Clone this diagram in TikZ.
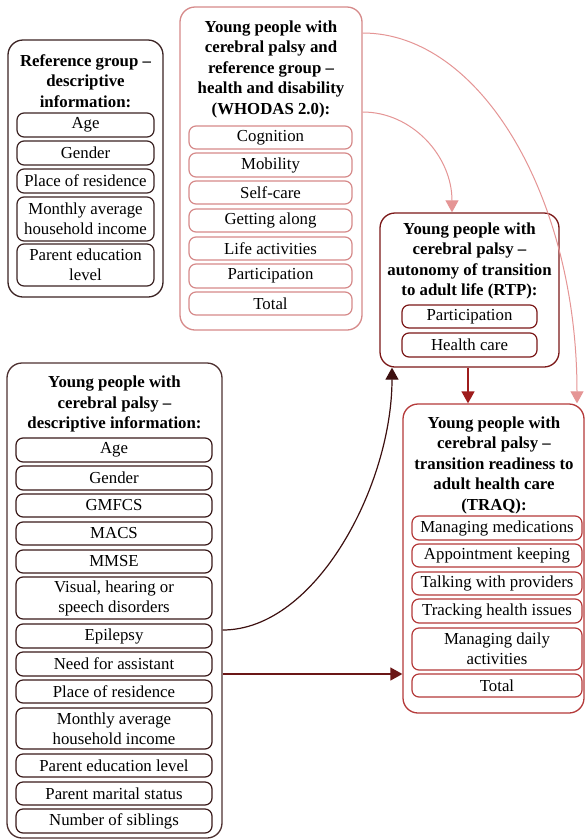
\documentclass[tikz,border=0pt]{standalone}
\usepackage{fontspec}
\setmainfont{Liberation Serif}
\usetikzlibrary{arrows.meta}
\definecolor{colA}{HTML}{3B2323}
\definecolor{colB}{HTML}{D68A8A}
\definecolor{colC}{HTML}{7B1818}
\definecolor{colD}{HTML}{4D3030}
\definecolor{colDi}{HTML}{3A1A1A}
\definecolor{colE}{HTML}{B53A3A}
\definecolor{arPink}{HTML}{E59595}
\definecolor{arRed}{HTML}{9E1C1C}
\definecolor{arDark}{HTML}{3D1010}
\definecolor{arMid}{HTML}{6B1616}
\newcommand\itm[7]{\node[itembox,draw=#6,minimum width={#4-#2},minimum height={#5-#3}] (#1) at ({(#2+#4)/2},{(#3+#5)/2}) {#7};}
\newcommand\outbox[6]{\node[outerbox,draw=#6,minimum width={#4-#2},minimum height={#5-#3}] (#1) at ({(#2+#4)/2},{(#3+#5)/2}) {};}
\begin{document}
\begin{tikzpicture}[x=1pt,y=-1pt,
  every node/.style={font=\fontsize{16.8}{20}\selectfont},
  itembox/.style={rectangle,rounded corners=7pt,line width=1.2pt,inner sep=0pt,align=center},
  outerbox/.style={rectangle,rounded corners=15pt,line width=1.3pt,inner sep=0pt},
  ttl/.style={align=center,inner sep=0pt,font=\fontsize{16.8}{20.5}\selectfont\bfseries},
  conn/.style={line width=1.3pt,-{Triangle[length=12pt,width=13pt]}},
  conncurve/.style={line width=1pt,-{Triangle[length=12pt,width=13pt]}}]
\useasboundingbox (0,0) rectangle (585,839);
\fill[white] (0,0) rectangle (585,839);
% Box A
\outbox{A}{8}{40}{163}{297}{colA}
\node[ttl] (At) at (85.5,81) {Reference group –\\descriptive\\information:};
\itm{A1}{17}{113}{154}{137}{colA}{Age}
\itm{A2}{17}{141}{154}{165}{colA}{Gender}
\itm{A3}{17}{169}{154}{193}{colA}{Place of residence}
\itm{A4}{17}{197}{154}{241}{colA}{Monthly average\\household income}
\itm{A5}{17}{244}{154}{286}{colA}{Parent education\\level}
% Box B
\outbox{B}{180}{7}{362}{330}{colB}
\node[ttl] (Bt) at (271,69) {Young people with\\cerebral palsy and\\reference group –\\health and disability\\(WHODAS 2.0):};
\itm{B1}{189}{126}{352}{149}{colB}{Cognition}
\itm{B2}{189}{153}{352}{177}{colB}{Mobility}
\itm{B3}{189}{181}{352}{204}{colB}{Self-care}
\itm{B4}{189}{209}{352}{232}{colB}{Getting along}
\itm{B5}{189}{237}{352}{260}{colB}{Life activities}
\itm{B6}{189}{264}{352}{288}{colB}{Participation}
\itm{B7}{189}{292}{352}{315}{colB}{Total}
% Box C
\outbox{C}{380}{213}{559}{367}{colC}
\node[ttl] (Ct) at (469.5,261) {Young people with\\cerebral palsy –\\autonomy of transition\\to adult life (RTP):};
\itm{C1}{402}{305}{537}{328}{colC}{Participation}
\itm{C2}{402}{333}{537}{357}{colC}{Health care}
% Box D
\outbox{D}{7}{363}{222}{838}{colD}
\node[ttl] (Dt) at (114.5,404) {Young people with\\cerebral palsy –\\descriptive information:};
\itm{D1}{16}{438}{212}{462}{colDi}{Age}
\itm{D2}{16}{466}{212}{490}{colDi}{Gender}
\itm{D3}{16}{494}{212}{517}{colDi}{GMFCS}
\itm{D4}{16}{522}{212}{545}{colDi}{MACS}
\itm{D5}{16}{550}{212}{573}{colDi}{MMSE}
\itm{D6}{16}{577}{212}{619}{colDi}{Visual, hearing or\\speech disorders}
\itm{D7}{16}{624}{212}{648}{colDi}{Epilepsy}
\itm{D8}{16}{652}{212}{676}{colDi}{Need for assistant}
\itm{D9}{16}{680}{212}{703}{colDi}{Place of residence}
\itm{D10}{16}{708}{212}{749}{colDi}{Monthly average\\household income}
\itm{D11}{16}{754}{212}{777}{colDi}{Parent education level}
\itm{D12}{16}{782}{212}{805}{colDi}{Parent marital status}
\itm{D13}{16}{809}{212}{833}{colDi}{Number of siblings}
% Box E
\outbox{E}{403}{404}{584}{713}{colE}
\node[ttl] (Et) at (494,465) {Young people with\\cerebral palsy –\\transition readiness to\\adult health care\\(TRAQ):};
\itm{E1}{412}{516}{582}{540}{colE}{Managing medications}
\itm{E2}{412}{544}{582}{567}{colE}{Appointment keeping}
\itm{E3}{412}{572}{582}{595}{colE}{Talking with providers}
\itm{E4}{412}{599}{582}{623}{colE}{Tracking health issues}
\itm{E5}{412}{628}{582}{670}{colE}{Managing daily\\activities}
\itm{E6}{412}{674}{582}{697}{colE}{Total}
% connectors
\coordinate (b1) at (B.east |- 0,33);
\coordinate (b2) at (B.east |- 0,112);
\coordinate (e1) at (E.north -| 577,0);
\coordinate (c1) at (C.north -| 452,0);
\draw[conncurve,draw=arPink] (b1) .. controls (481,33) and (577,198) .. (e1);
\draw[conncurve,draw=arPink] (b2) .. controls (412,112) and (452,156) .. (c1);
\draw[conn,draw=arRed] (C.south -| 468,0) -- (E.north -| 468,0);
\coordinate (d1) at (D.east |- 0,630);
\coordinate (c2) at (C.south -| 392,0);
\draw[conncurve,line width=1.2pt,draw=arDark] (d1) .. controls (316,630) and (392,485) .. (c2);
\draw[conn,draw=arMid] (D.east |- 0,674) -- (E.west |- 0,674);
\end{tikzpicture}
\end{document}
